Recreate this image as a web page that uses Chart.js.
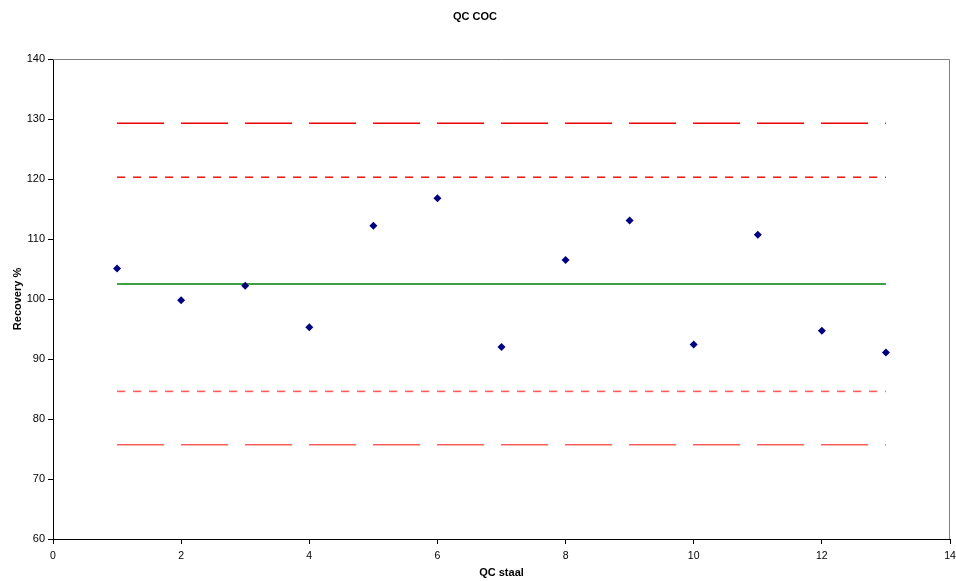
<!DOCTYPE html>
<html>
<head>
<meta charset="utf-8">
<script src="https://cdn.jsdelivr.net/npm/chart.js@4/dist/chart.umd.min.js"></script>
<style>
  html, body { margin: 0; padding: 0; background: #fff; }
  #wrap { width: 956px; height: 581px; }
</style>
</head>
<body>
<div id="wrap"><canvas id="c" width="956" height="581"></canvas></div>
<script>
// ---- data ----
const sampleNo = [1, 2, 3, 4, 5, 6, 7, 8, 9, 10, 11, 12, 13];
const recovery = [105.1, 99.8, 102.2, 95.3, 112.2, 116.8, 92.0, 106.5, 113.1, 92.4, 110.7, 94.7, 91.1];
const limitX = [1, 13];
const meanLine = [102.5, 102.5];
const upperWarning = [120.3, 120.3];
const lowerWarning = [84.6, 84.6];
const upperAction = [129.3, 129.3];
const lowerAction = [75.7, 75.7];
const xTicks = [0, 2, 4, 6, 8, 10, 12, 14];
const yTicks = [60, 70, 80, 90, 100, 110, 120, 130, 140];

const toPts = (xs, ys) => xs.map((x, i) => ({ x: x, y: ys[i] }));

const framePlugin = {
  id: 'frame',
  beforeDatasetsDraw(chart) {
    const a = chart.chartArea, ctx = chart.ctx;
    ctx.save();
    ctx.strokeStyle = '#808080';
    ctx.lineWidth = 1;
    ctx.beginPath();
    ctx.moveTo(a.left, a.top + 0.5);
    ctx.lineTo(a.right - 0.5, a.top + 0.5);
    ctx.lineTo(a.right - 0.5, a.bottom);
    ctx.stroke();
    ctx.restore();
  }
};

const lineDs = (ys, color, dash, width) => ({
  type: 'line',
  data: toPts(limitX, ys),
  borderColor: color,
  borderWidth: width || 1.5,
  borderDash: dash,
  pointRadius: 0,
  fill: false,
  order: 2
});

new Chart(document.getElementById('c'), {
  type: 'scatter',
  data: {
    datasets: [
      {
        type: 'scatter',
        data: toPts(sampleNo, recovery),
        pointStyle: 'rectRot',
        pointRadius: 4,
        backgroundColor: '#000080',
        borderColor: '#000080',
        borderWidth: 0,
        order: 1
      },
      lineDs(upperAction, '#ee0000', [47, 17], 1.4),
      lineDs(upperWarning, '#ee0000', [8, 8], 1.4),
      lineDs(meanLine, '#008000', [], 1.6),
      lineDs(lowerWarning, '#ff5c5c', [8, 8], 1.6),
      lineDs(lowerAction, '#ff5c5c', [47, 17], 1.6)
    ]
  },
  plugins: [framePlugin],
  options: {
    responsive: false,
    animation: false,
    devicePixelRatio: 1,
    layout: { padding: { left: 0, right: 6, top: 0, bottom: 0 } },
    plugins: {
      legend: { display: false },
      tooltip: { enabled: false },
      title: {
        display: true,
        text: 'QC COC',
        color: '#000',
        font: { family: 'Liberation Sans, Arial, sans-serif', size: 11, weight: 'bold', lineHeight: 1.2 },
        padding: { top: 10, bottom: 35.8 }
      }
    },
    scales: {
      x: {
        type: 'linear',
        min: 0, max: 14,
        afterBuildTicks: s => { s.ticks = xTicks.map(v => ({ value: v })); },
        afterFit: s => { s.height = 42; s.paddingLeft = 0; s.paddingRight = 0; },
        grid: { display: true, drawOnChartArea: false, drawTicks: true, tickLength: 5, color: '#000' },
        border: { display: true, color: '#000', width: 1 },
        ticks: { color: '#000', padding: 6, maxRotation: 0, autoSkip: false,
                 font: { family: 'Liberation Sans, Arial, sans-serif', size: 10.5 } },
        title: { display: true, text: 'QC staal', color: '#000',
                 font: { family: 'Liberation Sans, Arial, sans-serif', size: 11, weight: 'bold' },
                 padding: { top: 0, bottom: 1 } }
      },
      y: {
        type: 'linear',
        min: 60, max: 140,
        afterBuildTicks: s => { s.ticks = yTicks.map(v => ({ value: v })); },
        afterFit: s => { s.width = 53; s.paddingTop = 0; s.paddingBottom = 0; },
        grid: { display: true, drawOnChartArea: false, drawTicks: true, tickLength: 5, color: '#000' },
        border: { display: true, color: '#000', width: 1 },
        ticks: { color: '#000', padding: 3, autoSkip: false,
                 font: { family: 'Liberation Sans, Arial, sans-serif', size: 11 } },
        title: { display: true, text: 'Recovery %', color: '#000',
                 font: { family: 'Liberation Sans, Arial, sans-serif', size: 11, weight: 'bold' },
                 padding: { top: 11, bottom: 0 } }
      }
    }
  }
});
</script>
</body>
</html>
